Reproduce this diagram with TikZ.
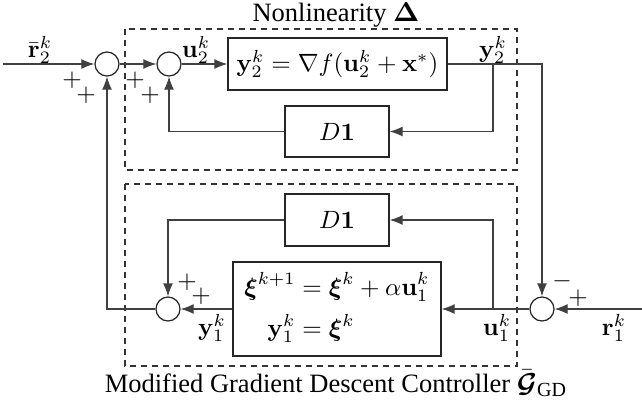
\documentclass[tikz,border=0pt]{standalone}
\usepackage{amsmath,amssymb,bm}
\usepackage[no-math]{fontspec}
\setmainfont{Liberation Serif}
\usetikzlibrary{arrows.meta}
\begin{document}
\begin{tikzpicture}[x=0.4pt,y=-0.4pt,
  blk/.style={draw=black!85, line width=0.5pt, inner sep=0pt},
  sumc/.style={circle, draw=black!85, line width=0.5pt, minimum size=9.6pt, inner sep=0pt},
  conn/.style={draw=black!75, line width=0.5pt},
  arr/.style={conn, -{Latex[length=5.2pt,width=4pt]}},
  dbox/.style={draw=black!80, line width=0.5pt, dash pattern=on 2.4pt off 2pt},
  lbl/.style={inner sep=0pt},
  ttl/.style={inner sep=0pt, font=\fontsize{10.6}{13}\selectfont},
  sgn/.style={inner sep=0pt}]
\useasboundingbox (0,0) rectangle (642,408);

% dashed boxes
\draw[dbox] (125,29) rectangle (517,170);
\draw[dbox] (125,184) rectangle (517,366);
\node[ttl, anchor=base] (tnl) at (336,21.5) {Nonlinearity $\bar{\boldsymbol{\Delta}}$};
\node[ttl, anchor=base] (tgd) at (336,392) {Modified Gradient Descent Controller $\bar{\boldsymbol{\mathcal{G}}}_{\mbox{\fontsize{8}{9}\selectfont GD}}$};

% blocks
\node[blk, minimum width=87.6pt, minimum height=20.8pt] (A) at (337.5,64) {$\mathbf{y}_2^k=\nabla f(\mathbf{u}_2^k+\mathbf{x}^{*})$};
\node[blk, minimum width=41.6pt, minimum height=20.4pt] (D1u) at (337,131.5) {$D\mathbf{1}$};
\node[blk, minimum width=41.6pt, minimum height=20.8pt] (D1l) at (337,220) {$D\mathbf{1}$};
\node[blk, minimum width=83.2pt, minimum height=37.6pt] (X) at (337,309)
  {$\begin{aligned}\boldsymbol{\xi}^{k+1}&=\boldsymbol{\xi}^{k}+\alpha\mathbf{u}_1^k\\ \mathbf{y}_1^k&=\boldsymbol{\xi}^{k}\end{aligned}$};

% summing junctions
\node[sumc] (c1) at (107,64) {};
\node[sumc] (c2) at (169,64) {};
\node[sumc] (c3) at (168,309) {};
\node[sumc] (c4) at (542,309) {};

% coordinates
\coordinate (in2) at (3,64);
\coordinate (in1) at (642,309);
\coordinate (br1) at (493,64);
\coordinate (cor1) at (542,64);
\coordinate (br2) at (493,309);

% connectors
\draw[arr] (in2) -- (c1);
\draw[arr] (c1) -- (c2);
\draw[arr] (c2) -- (A);
\draw[arr] (A.east) -- (cor1) -- (c4);
\draw[arr] (br1) |- (D1u);
\draw[arr] (D1u) -| (c2);
\draw[arr] (in1) -- (c4);
\draw[arr] (c4) -- (X);
\draw[arr] (br2) |- (D1l);
\draw[arr] (D1l) -| (c3);
\draw[arr] (X) -- (c3);
\draw[arr] (c3) -| (c1);

% signal labels
\node[lbl] (lr2) at (40,50) {$\bar{\mathbf{r}}_2^k$};
\node[lbl] (lu2) at (196,50) {$\mathbf{u}_2^k$};
\node[lbl] (ly2) at (493,50) {$\mathbf{y}_2^k$};
\node[lbl] (ly1) at (212,328) {$\mathbf{y}_1^k$};
\node[lbl] (lu1) at (497,328) {$\mathbf{u}_1^k$};
\node[lbl] (lr1) at (614,328) {$\mathbf{r}_1^k$};

% signs
\node[sgn] (s1a) at (72,80) {$+$};
\node[sgn] (s1b) at (86,95) {$+$};
\node[sgn] (s2a) at (135,80) {$+$};
\node[sgn] (s2b) at (150,95) {$+$};
\node[sgn] (s3a) at (187,282) {$+$};
\node[sgn] (s3b) at (201,296) {$+$};
\node[sgn] (s4a) at (562,281) {$-$};
\node[sgn] (s4b) at (578,298) {$+$};
\end{tikzpicture}
\end{document}
